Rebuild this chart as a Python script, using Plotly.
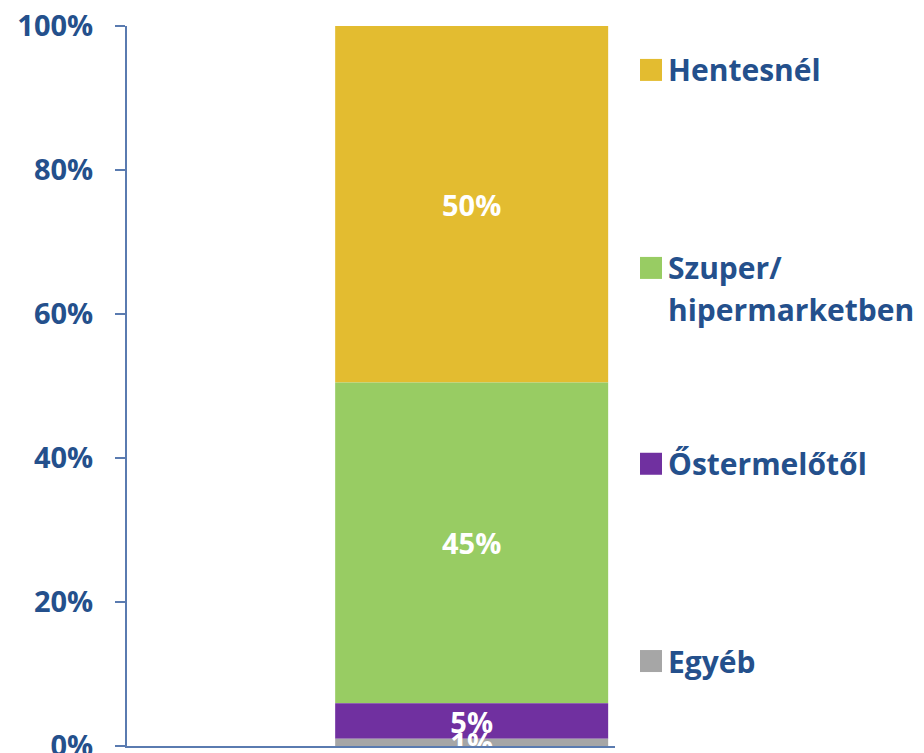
import numpy as np
import plotly.graph_objects as go

categories = ["Egyéb", "Őstermelőtől", "Szuper/<br>hipermarketben", "Hentesnél"]
values = [1, 5, 45, 50]
value_labels = ["1%", "5%", "45%", "50%"]
colors = ["#A6A6A6", "#7030A0", "#98CC63", "#E3BC30"]
ytick_vals = [0, 20, 40, 60, 80, 100]
ytick_text = ["0%", "20%", "40%", "60%", "80%", "100%"]
legend_y = [0.118, 0.392, 0.664, 0.939]  # paper y of first line of each legend entry

vals = np.array(values, dtype=float)
share = vals / vals.sum() * 100
base = np.cumsum(share) - share

BLUE = "#24508C"
AXIS = "#5A7BB0"
FONT = "Open Sans"

fig = go.Figure()
for i in reversed(range(len(categories))):
    fig.add_trace(go.Bar(
        x=["Vásárlás"], y=[share[i]], base=[base[i]],
        name=categories[i].replace("<br>", " "),
        marker=dict(color=colors[i], line=dict(width=0)),
        text=[value_labels[i]], textposition="inside", insidetextanchor="middle",
        textangle=0, cliponaxis=False,
        textfont=dict(family=FONT, size=29, color="white", weight=700),
        showlegend=False, hoverinfo="skip",
    ))

line_step = 42 / 720
shapes = []
annotations = []
for i, cat in enumerate(categories):
    y0 = legend_y[i]
    shapes.append(dict(
        type="rect", xref="paper", yref="paper", xsizemode="pixel", ysizemode="pixel",
        xanchor=1.0 + (651 - 615) / 488, yanchor=y0,
        x0=-11, x1=11, y0=-11, y1=11,
        fillcolor=colors[i], line=dict(width=0),
    ))
    for j, line in enumerate(cat.split("<br>")):
        annotations.append(dict(
            text=line, xref="paper", yref="paper",
            x=1.0 + (666 - 615) / 488, y=y0 - j * line_step,
            xanchor="left", yanchor="middle", showarrow=False,
            font=dict(family=FONT, size=30, color=BLUE, weight=700),
        ))

fig.update_layout(
    width=916, height=745,
    margin=dict(l=119, r=309, t=18, b=7, autoexpand=False),
    paper_bgcolor="white", plot_bgcolor="white",
    barmode="overlay", bargap=0.2,
    uniformtext=dict(minsize=29, mode="show"),
    showlegend=False,
    shapes=shapes, annotations=annotations,
    xaxis=dict(range=[-1.01, 0.42], showticklabels=False, showgrid=False,
               zeroline=False, showline=True, linecolor=AXIS, linewidth=2,
               ticks="", automargin=False),
    yaxis=dict(range=[0, 100], tickvals=ytick_vals, ticktext=ytick_text,
               showgrid=False, zeroline=False, showline=True, linecolor=AXIS,
               linewidth=2, ticks="outside", ticklen=10, tickcolor=AXIS, tickwidth=2,
               ticklabelstandoff=16, ticklabeloverflow="allow", automargin=False,
               tickfont=dict(family=FONT, size=29, color=BLUE, weight=700)),
)

fig.write_html("out.html")
